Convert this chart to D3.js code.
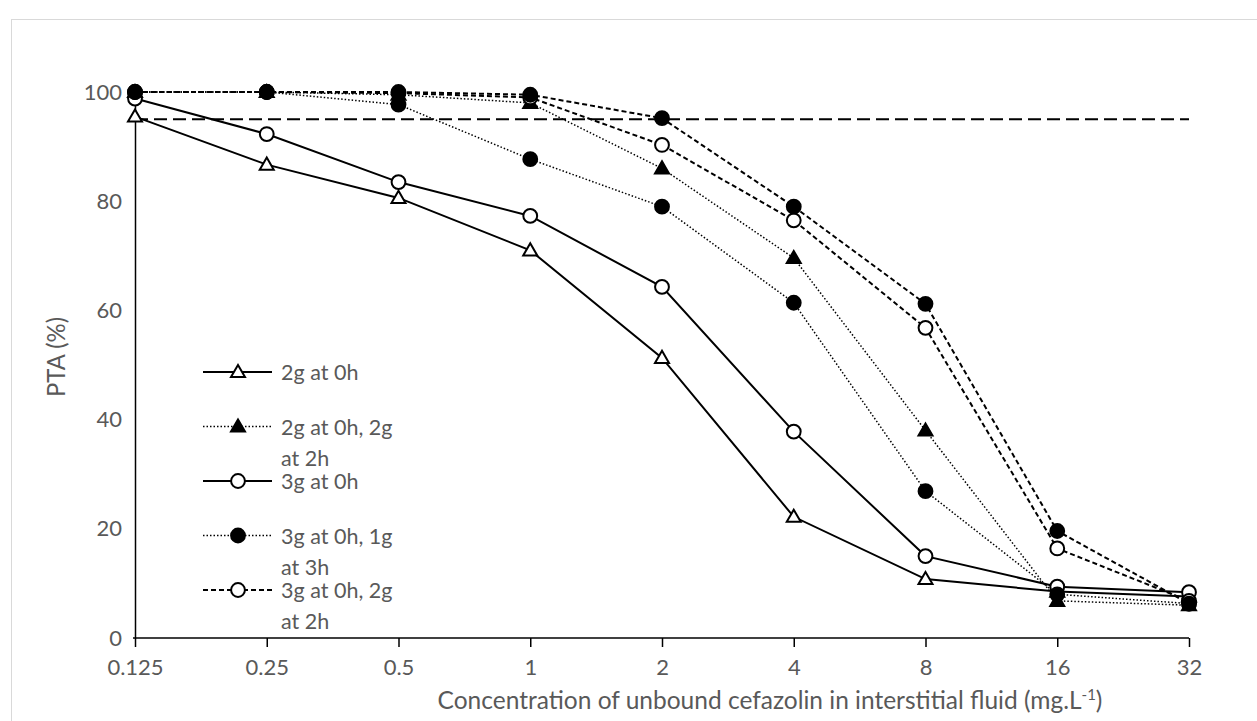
<!DOCTYPE html>
<html lang="en">
<head>
  <meta charset="UTF-8" />
  <title>PTA vs cefazolin concentration</title>
  <script src="https://cdn.jsdelivr.net/npm/d3@7/dist/d3.min.js"></script>
  <style>
    html, body { margin: 0; padding: 0; background: #fff; overflow: hidden; }
    svg { display: block; }
    text { font-family: Lato, "Open Sans", sans-serif; fill: #595959; }
  </style>
</head>
<body>
  <script>
    // ----------------------------
    // Data
    // ----------------------------
    const concentrations = ["0.125", "0.25", "0.5", "1", "2", "4", "8", "16", "32"];
    const yTicks = [0, 20, 40, 60, 80, 100];
    const target = 95;

    const seriesNames = [
      "2g at 0h",
      "2g at 0h, 2g at 2h",
      "3g at 0h",
      "3g at 0h, 1g at 3h",
      "3g at 0h, 2g at 2h",
      "3g at 0h, 3g at 0h"   // legend entry not visible in the original
    ];
    const pta2g       = [95.5, 86.7, 80.6, 71.0, 51.3, 22.2, 10.8, 8.5, 7.6];
    const pta2g2g     = [100, 100, 99.5, 98.0, 86.0, 69.6, 38.0, 6.8, 6.0];
    const pta3g       = [98.8, 92.3, 83.5, 77.3, 64.3, 37.8, 15.0, 9.4, 8.4];
    const pta3g1g     = [100, 100, 97.7, 87.7, 79.0, 61.4, 26.9, 8.0, 6.3];
    const pta3g2g     = [100, 100, 99.8, 99.0, 90.3, 76.5, 56.8, 16.4, 6.8];
    const pta3g2gTop  = [100, 100, 100, 99.5, 95.2, 79.0, 61.2, 19.6, 6.3];

    const seriesValues = [pta2g, pta2g2g, pta3g, pta3g1g, pta3g2g, pta3g2gTop];
    const seriesMarker = ["triangle", "triangle", "circle", "circle", "circle", "circle"];
    const seriesFilled = [false, true, false, true, false, true];
    const seriesDash   = ["solid", "dotted", "solid", "dotted", "dashed", "dashed"];
    const legendCount = 5;

    // ----------------------------
    // Layout
    // ----------------------------
    const width = 1257, height = 721;
    const svg = d3.select("body").append("svg")
      .attr("width", width).attr("height", height);

    // chart area border
    svg.append("rect")
      .attr("x", 11.5).attr("y", 19.5)
      .attr("width", width + 10).attr("height", height + 10)
      .attr("fill", "none").attr("stroke", "#d9d9d9");

    const x = d3.scalePoint().domain(concentrations).range([135, 1189]);
    const y = d3.scaleLinear().domain([0, 100]).range([638, 92]);

    const dashArray = { solid: null, dotted: "1.5,2", dashed: "5,3" };
    const strokeW = { solid: 2, dotted: 1.5, dashed: 2 };

    // ----------------------------
    // Axes
    // ----------------------------
    const xAxis = svg.append("g")
      .attr("transform", `translate(0,${y(0)})`)
      .call(d3.axisBottom(x).tickSizeInner(9).tickSizeOuter(0).tickPadding(12));
    xAxis.select(".domain").attr("stroke", "#000").attr("stroke-width", 1.5)
      .attr("d", `M${x("0.125") - 2},0H${x("32")}`);
    xAxis.selectAll(".tick line").attr("stroke", "#000").attr("stroke-width", 1.5);
    xAxis.selectAll(".tick text")
      .style("font-size", "22px").attr("fill", "#595959")
      .style("font-family", "Lato, 'Open Sans', sans-serif");

    const yAxis = svg.append("g")
      .attr("transform", `translate(${x("0.125")},0)`)
      .call(d3.axisLeft(y).tickValues(yTicks).tickSize(0).tickPadding(13));
    yAxis.select(".domain").attr("stroke", "#000").attr("stroke-width", 1.5);
    yAxis.selectAll(".tick text")
      .style("font-size", "22px").attr("fill", "#595959")
      .style("font-family", "Lato, 'Open Sans', sans-serif");

    // axis titles
    const xTitle = svg.append("text")
      .attr("x", 770).attr("y", 709)
      .attr("text-anchor", "middle")
      .style("font-size", "24.5px");
    xTitle.append("tspan").text("Concentration of unbound cefazolin in interstitial fluid (mg.L");
    xTitle.append("tspan").attr("dy", -9).style("font-size", "15px").text("-1");
    xTitle.append("tspan").attr("dy", 9).text(")");

    svg.append("text")
      .attr("transform", `translate(65,357) rotate(-90)`)
      .attr("text-anchor", "middle")
      .attr("textLength", 80)
      .attr("lengthAdjust", "spacingAndGlyphs")
      .style("font-size", "25px")
      .text("PTA (%)");

    // ----------------------------
    // Target line at 95%
    // ----------------------------
    svg.append("line")
      .attr("x1", x("0.125")).attr("x2", x("32"))
      .attr("y1", y(target)).attr("y2", y(target))
      .attr("stroke", "#000").attr("stroke-width", 2)
      .attr("stroke-dasharray", "13,6");

    // ----------------------------
    // Series
    // ----------------------------
    const line = d3.line()
      .x((d, i) => x(concentrations[i]))
      .y(d => y(d));

    const symTri = d3.symbol().type(d3.symbolTriangle).size(85);
    const symCir = d3.symbol().type(d3.symbolCircle).size(150);

    function drawMarker(g, type, filled, cx, cy) {
      g.append("path")
        .attr("d", type === "triangle" ? symTri() : symCir())
        .attr("transform", `translate(${cx},${cy + (type === "triangle" ? 1 : 0)})`)
        .attr("fill", filled ? "#000" : "#fff")
        .attr("stroke", "#000")
        .attr("stroke-width", 2);
    }

    seriesValues.forEach((vals, s) => {
      svg.append("path")
        .datum(vals)
        .attr("d", line)
        .attr("fill", "none")
        .attr("stroke", "#000")
        .attr("stroke-width", strokeW[seriesDash[s]])
        .attr("stroke-dasharray", dashArray[seriesDash[s]]);
    });
    seriesValues.forEach((vals, s) => {
      const g = svg.append("g");
      vals.forEach((v, i) => drawMarker(g, seriesMarker[s], seriesFilled[s], x(concentrations[i]), y(v)));
    });

    // ----------------------------
    // Legend (only the first five entries show in the original)
    // ----------------------------
    const legend = svg.append("g");
    for (let s = 0; s < legendCount; s++) {
      const ly = 372 + s * 54.5;
      const g = legend.append("g");
      g.append("line")
        .attr("x1", 203).attr("x2", 272)
        .attr("y1", ly).attr("y2", ly)
        .attr("stroke", "#000")
        .attr("stroke-width", strokeW[seriesDash[s]])
        .attr("stroke-dasharray", dashArray[seriesDash[s]]);
      drawMarker(g, seriesMarker[s], seriesFilled[s], 238, ly);

      // two-dose names wrap before the last " at ..." like the original
      const name = seriesNames[s];
      const idx = name.lastIndexOf(" at ");
      const parts = name.includes(",") ? [name.slice(0, idx), name.slice(idx + 1)] : [name];
      const t = g.append("text")
        .attr("x", 281).attr("y", ly + 8)
        .style("font-size", "21.5px");
      parts.forEach((p, k) => {
        t.append("tspan").attr("x", 281).attr("dy", k === 0 ? 0 : 31).text(p);
      });
    }
  </script>
</body>
</html>
